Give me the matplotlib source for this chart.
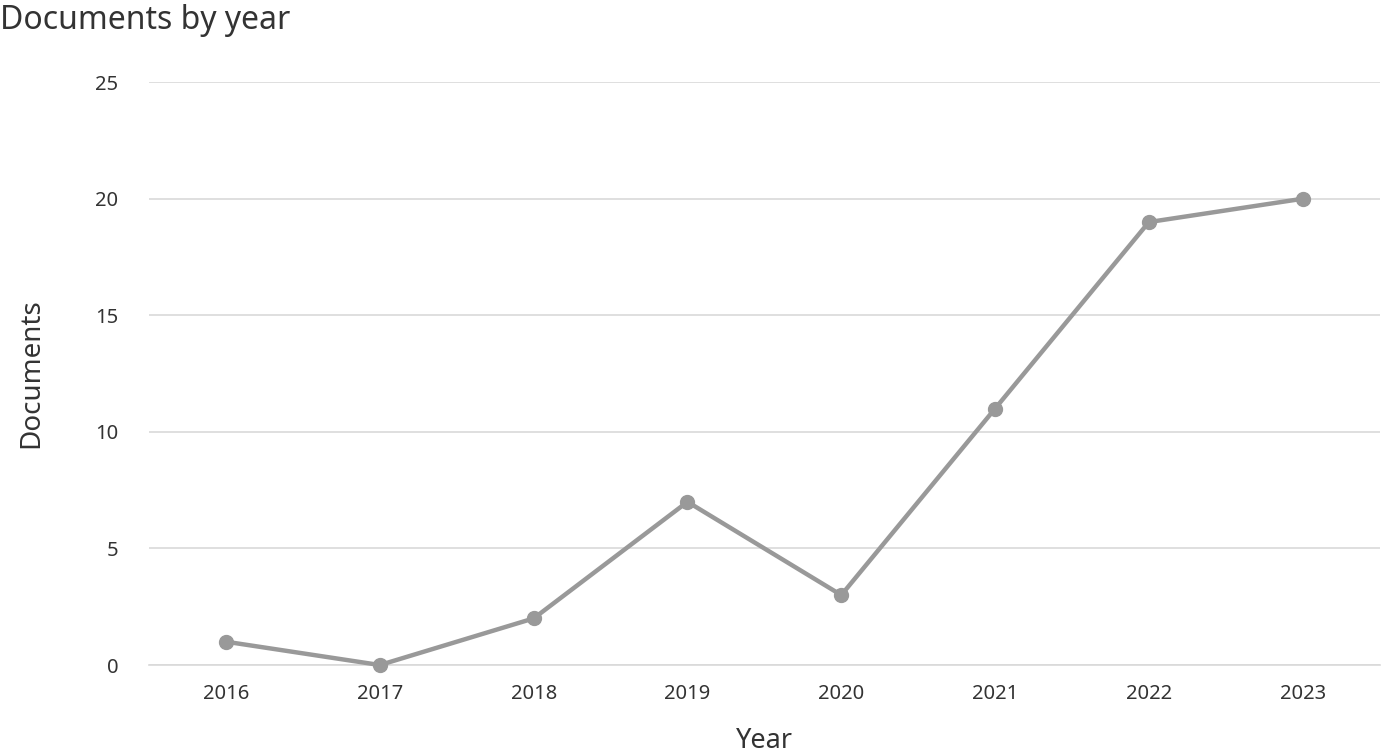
import matplotlib
matplotlib.use("Agg")
import matplotlib.pyplot as plt

# Documents published per year
years = ["2016", "2017", "2018", "2019", "2020", "2021", "2022", "2023"]
documents = [1, 0, 2, 7, 3, 11, 19, 20]

y_ticks = [0, 5, 10, 15, 20, 25]

plt.rcParams["font.family"] = ["Noto Sans", "DejaVu Sans"]

fig = plt.figure(figsize=(13.81, 7.54), dpi=100)
ax = fig.add_axes([0.108, 0.118, 0.891, 0.773])

x = list(range(len(years)))
ax.plot(x, documents, color="#999999", linewidth=3.2, marker="o",
        markersize=10, zorder=3, clip_on=False)

ax.set_xlim(-0.5, 7.5)
ax.set_ylim(0, 25)
ax.set_xticks(x)
ax.set_xticklabels(years)
ax.set_yticks(y_ticks)
ax.grid(axis="y", color="#d9d9d9", linewidth=1.2)
ax.set_axisbelow(True)
for side in ("top", "right", "left"):
    ax.spines[side].set_visible(False)
ax.spines["bottom"].set_color("#d9d9d9")
ax.spines["bottom"].set_linewidth(1.2)
ax.tick_params(length=0, labelsize=14.5, colors="#333333", pad=14)
ax.tick_params(axis="y", pad=22)

ax.set_xlabel("Year", fontsize=19.5, color="#333333", labelpad=16)
ax.set_ylabel("Documents", fontsize=20, color="#333333", labelpad=36)
fig.text(0.0, 0.995, "Documents by year", fontsize=23, color="#333333",
         ha="left", va="top")

fig.savefig("out.png", dpi=100)
